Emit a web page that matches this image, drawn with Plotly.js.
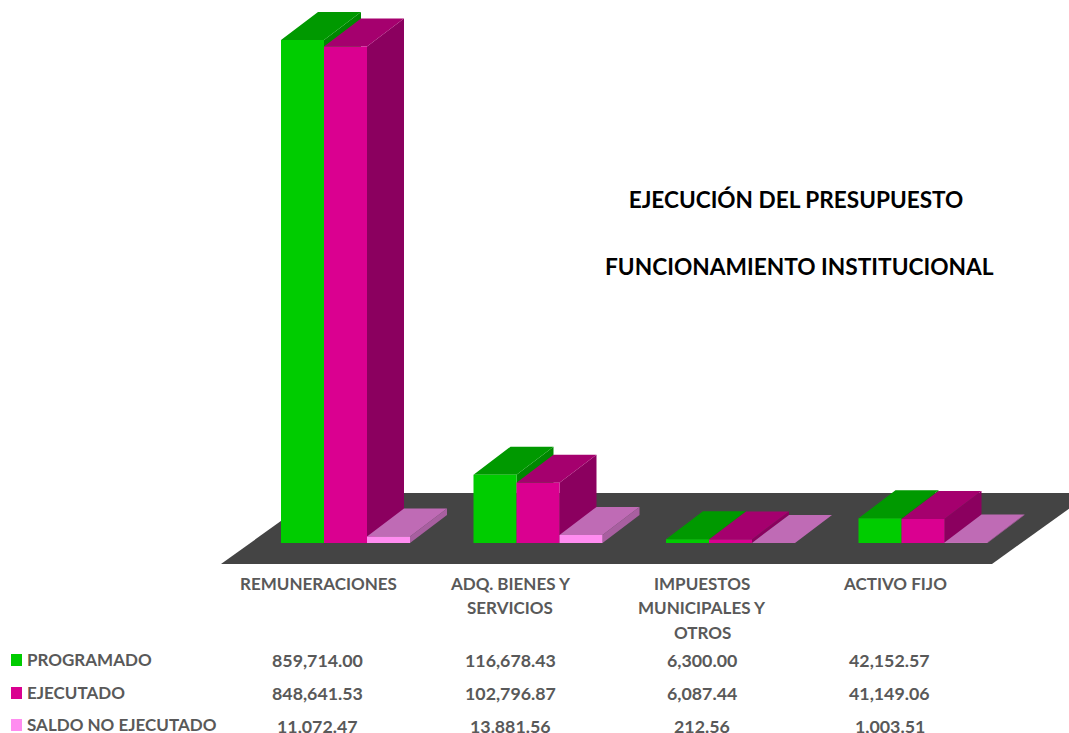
<!DOCTYPE html>
<html>
<head>
<meta charset="utf-8">
<script src="https://cdn.plot.ly/plotly-3.0.1.min.js"></script>
<style>html,body{margin:0;padding:0;background:#fff}#chart{width:1069px;height:733px}</style>
</head>
<body>
<div id="chart"></div>
<script>
const categoryLines = [["REMUNERACIONES"],["ADQ. BIENES Y","SERVICIOS"],["IMPUESTOS","MUNICIPALES Y","OTROS"],["ACTIVO FIJO"]];
const seriesNames = ["PROGRAMADO","EJECUTADO","SALDO NO EJECUTADO"];
const programado = [859714.00,116678.43,6300.00,42152.57];
const ejecutado = [848641.53,102796.87,6087.44,41149.06];
const saldo = [11072.47,13881.56,212.56,1003.51];
const frontColors = ["#00CC00","#DA0090","#FF8CF0"];
const topColors = ["#009900","#A5006E","#BF6BB5"];
const sideColors = ["#008800","#8B005F","#A85FA0"];
const categoryLabelX = [318,510,702,894.5];
const valueLabelX = [317.5,510,702,889.5];
const rowY = [659,692,724.5];
const swatchY = [660,693,725];
const seriesValues = [programado,ejecutado,saldo];

const W=1069,H=733;
const groupPx=192.5, x0Px=345.5, y0Px=543, pxPerValue=0.000585;
const xRange=[-x0Px/groupPx,(W-x0Px)/groupPx];
const yRange=[(y0Px-H)/pxPerValue,y0Px/pxPerValue];
const xv=p=>(p-x0Px)/groupPx, yv=p=>(y0Px-p)/pxPerValue;
const barW=43/groupPx, depthX=37/groupPx, depthY=28/pxPerValue;
const idx=[0,1,2,3];
const fmt=v=>v.toLocaleString("en-US",{minimumFractionDigits:2,maximumFractionDigits:2});
const textCol="#595959", fam="Lato, 'Open Sans', sans-serif";

const traces=[];
seriesValues.forEach((vals,k)=>{
  const tx=[],ty=[],sx=[],sy=[];
  vals.forEach((v,i)=>{
    const l=i+(k-1.5)*barW, r=l+barW;
    tx.push(l,r,r+depthX,l+depthX,l,null);
    ty.push(v,v,v+depthY,v+depthY,v,null);
    sx.push(r,r,r+depthX,r+depthX,r,null);
    sy.push(0,v,v+depthY,depthY,0,null);
  });
  traces.push({type:"scatter",mode:"lines",x:sx,y:sy,fill:"toself",fillcolor:sideColors[k],line:{width:0},hoverinfo:"skip",showlegend:false,xaxis:"x",yaxis:"y"});
  traces.push({type:"scatter",mode:"lines",x:tx,y:ty,fill:"toself",fillcolor:topColors[k],line:{width:0},hoverinfo:"skip",showlegend:false,xaxis:"x",yaxis:"y"});
});
seriesValues.forEach((vals,k)=>{
  traces.push({type:"bar",name:seriesNames[k],x:idx,y:vals,marker:{color:frontColors[k],line:{width:0}},showlegend:false,xaxis:"x2",yaxis:"y2"});
});

const annotations=[];
const ann=(text,xp,yp,size,color,xanchor)=>annotations.push({text:"<b>"+text+"</b>",xref:"paper",yref:"paper",x:xp/W,y:1-yp/H,xanchor:xanchor||"center",yanchor:"middle",showarrow:false,font:{family:fam,size:size,color:color}});
const lineY=[583,607.5,632];
categoryLines.forEach((lines,i)=>lines.forEach((t,j)=>ann(t,categoryLabelX[i],lineY[j],17,textCol)));
seriesNames.forEach((n,k)=>{
  ann(n,25,rowY[k],17,textCol,"left");
  seriesValues[k].forEach((v,i)=>ann(fmt(v),valueLabelX[i],rowY[k]+1,17.8,textCol));
});
ann("FUNCIONAMIENTO INSTITUCIONAL",799.5,266,22.7,"#000000");

const shapes=[{type:"path",layer:"below",xref:"x",yref:"y",
  path:`M${xv(221)},${yv(564)} L${xv(992)},${yv(564)} L${xv(1091)},${yv(493)} L${xv(320)},${yv(493)} Z`,
  fillcolor:"#444444",line:{width:0}}];
frontColors.forEach((c,k)=>shapes.push({type:"rect",xref:"paper",yref:"paper",x0:11/W,x1:22/W,y0:1-(swatchY[k]+6)/H,y1:1-(swatchY[k]-6)/H,fillcolor:c,line:{width:0}}));

const axis={visible:false,fixedrange:true};
const layout={
  width:W,height:H,margin:{l:0,r:0,t:0,b:0},paper_bgcolor:"#fff",plot_bgcolor:"rgba(0,0,0,0)",
  title:{text:"<b>EJECUCIÓN DEL PRESUPUESTO</b>",x:796/W,xanchor:"center",xref:"paper",y:1-200.5/H,yanchor:"middle",yref:"paper",font:{family:fam,size:22.6,color:"#000000"}},
  barmode:"group",bargap:1-3*barW,bargroupgap:0,showlegend:false,
  xaxis:{...axis,range:xRange},yaxis:{...axis,range:yRange},
  xaxis2:{...axis,range:xRange,overlaying:"x"},yaxis2:{...axis,range:yRange,overlaying:"y"},
  shapes,annotations
};
Plotly.newPlot("chart",traces,layout,{displayModeBar:false,staticPlot:true});
</script>
</body>
</html>
